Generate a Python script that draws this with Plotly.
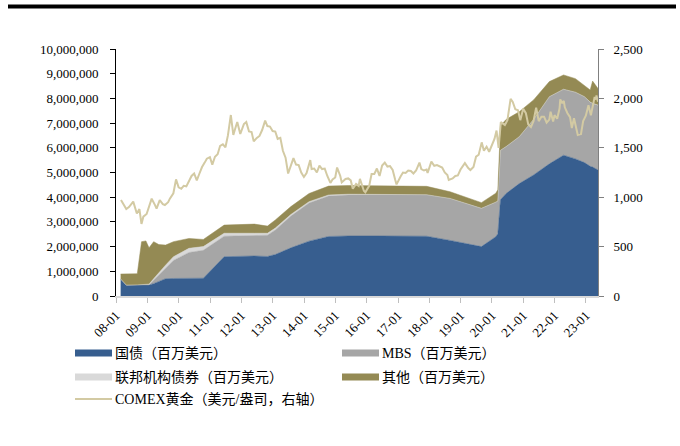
import plotly.graph_objects as go

# Fed balance sheet components, millions of USD (stacked areas, left axis)
dates = [
    "2008-02-24", "2008-05-01", "2008-09-05", "2008-10-25", "2008-12-15",
    "2009-01-20", "2009-03-15", "2009-05-15", "2009-08-01", "2009-11-01",
    "2010-05-01", "2010-10-15", "2011-06-15", "2012-06-01", "2012-11-01",
    "2013-02-01", "2013-08-01", "2014-03-01", "2014-10-15", "2015-06-01",
    "2016-06-01", "2017-06-01", "2017-12-01", "2018-09-01", "2019-04-01",
    "2019-09-01", "2020-02-15", "2020-03-10", "2020-04-10", "2020-06-15",
    "2020-11-15", "2021-05-01", "2021-11-01", "2022-04-15", "2022-09-01",
    "2022-12-15", "2023-02-20", "2023-03-20", "2023-05-22",
]
treasury = [
    690000, 440000, 450000, 450000, 450000,
    450000, 500000, 600000, 700000, 710000,
    710000, 720000, 1590000, 1620000, 1600000,
    1680000, 1950000, 2220000, 2410000, 2430000,
    2430000, 2430000, 2420000, 2250000, 2100000,
    2000000, 2400000, 2520000, 3900000, 4150000,
    4550000, 4900000, 5350000, 5700000, 5550000,
    5400000, 5250000, 5220000, 5100000,
]
mbs = [
    0, 0, 0, 0, 0,
    0, 140000, 260000, 430000, 730000,
    1051000, 1130000, 830000, 825000, 860000,
    995000, 1285000, 1545000, 1638000, 1655000,
    1665000, 1670000, 1675600, 1697600, 1617600,
    1547700, 1397700, 1327700, 1997700, 1897700,
    1897700, 2247700, 2717700, 2667700, 2697700,
    2667700, 2597700, 2577700, 2627700,
]
agency = [
    0, 0, 0, 0, 10000,
    30000, 60000, 90000, 120000, 150000,
    169000, 150000, 120000, 95000, 80000,
    75000, 65000, 55000, 42000, 35000,
    25000, 10000, 4400, 2400, 2400,
    2300, 2300, 2300, 2300, 2300,
    2300, 2300, 2300, 2300, 2300,
    2300, 2300, 2300, 2300,
]
other = [
    200000, 450000, 450000, 1750000, 1770000,
    1470000, 1500000, 1130000, 810000, 610000,
    400000, 290000, 330000, 370000, 290000,
    330000, 320000, 330000, 360000, 350000,
    350000, 350000, 340000, 270000, 250000,
    230000, 360000, 450000, 1000000, 1100000,
    1010000, 790000, 610000, 580000, 550000,
    470000, 490000, 900000, 670000,
]

# COMEX gold, USD per ounce (right axis)
gold_dates = [
    "2008-02-28", "2008-03-31", "2008-04-30", "2008-05-31", "2008-06-30", "2008-07-20",
    "2008-08-31", "2008-09-30", "2008-10-24", "2008-11-15", "2008-12-23",
    "2009-01-31", "2009-02-20", "2009-03-31", "2009-04-18", "2009-05-25", "2009-06-30",
    "2009-07-24", "2009-08-31", "2009-09-20", "2009-10-31", "2009-12-01", "2009-12-31",
    "2010-01-31", "2010-02-28", "2010-03-31", "2010-04-30", "2010-05-31", "2010-06-30",
    "2010-07-31", "2010-08-31", "2010-09-30", "2010-10-31", "2010-11-25", "2010-12-31",
    "2011-01-28", "2011-02-28", "2011-03-31", "2011-04-29", "2011-05-31", "2011-06-30",
    "2011-07-29", "2011-09-01", "2011-09-30", "2011-10-31", "2011-11-15", "2011-12-20",
    "2012-01-31", "2012-02-28", "2012-03-31", "2012-04-30", "2012-05-25", "2012-06-30",
    "2012-07-31", "2012-08-31", "2012-10-05", "2012-10-31", "2012-11-30", "2012-12-31",
    "2013-01-31", "2013-02-28", "2013-03-31", "2013-04-30", "2013-05-31", "2013-06-30",
    "2013-07-31", "2013-08-31", "2013-09-30", "2013-10-31", "2013-11-30", "2013-12-31",
    "2014-01-31", "2014-02-28", "2014-03-15", "2014-03-31", "2014-04-30", "2014-05-31",
    "2014-06-30", "2014-07-31", "2014-08-31", "2014-09-30", "2014-11-05", "2014-11-30",
    "2014-12-31", "2015-01-22", "2015-02-28", "2015-03-17", "2015-04-30", "2015-05-31",
    "2015-06-30", "2015-07-24", "2015-08-31", "2015-09-30", "2015-10-15", "2015-11-30",
    "2015-12-17", "2016-01-31", "2016-02-28", "2016-03-31", "2016-04-30", "2016-05-31",
    "2016-06-30", "2016-07-31", "2016-08-31", "2016-09-30", "2016-10-31", "2016-11-30",
    "2016-12-15", "2017-01-31", "2017-02-28", "2017-03-31", "2017-04-30", "2017-05-31",
    "2017-06-30", "2017-07-31", "2017-09-08", "2017-09-30", "2017-10-31", "2017-11-30",
    "2017-12-12", "2018-01-25", "2018-02-28", "2018-03-31", "2018-04-30", "2018-05-31",
    "2018-06-30", "2018-07-31", "2018-08-16", "2018-09-30", "2018-10-31", "2018-11-30",
    "2018-12-31", "2019-01-31", "2019-02-20", "2019-03-31", "2019-04-25", "2019-05-31",
    "2019-06-30", "2019-07-31", "2019-09-04", "2019-09-30", "2019-10-31", "2019-11-30",
    "2019-12-31", "2020-01-31", "2020-02-24", "2020-03-19", "2020-04-14", "2020-05-31",
    "2020-06-30", "2020-08-06", "2020-08-31", "2020-09-30", "2020-10-31", "2020-11-27",
    "2020-12-31", "2021-01-31", "2021-02-28", "2021-03-31", "2021-04-30", "2021-05-31",
    "2021-06-30", "2021-07-31", "2021-08-31", "2021-09-30", "2021-10-31", "2021-11-15",
    "2021-12-15", "2021-12-31", "2022-01-31", "2022-02-28", "2022-03-08", "2022-03-31",
    "2022-04-18", "2022-04-30", "2022-05-31", "2022-06-30", "2022-07-21", "2022-08-15",
    "2022-09-28", "2022-10-31", "2022-11-03", "2022-11-30", "2022-12-31", "2023-01-31",
    "2023-02-28", "2023-03-31", "2023-04-13", "2023-04-30", "2023-05-04", "2023-05-22",
]
gold = [
    972, 930, 880, 900, 935, 955,
    835, 880, 729, 803, 830,
    925, 985, 920, 885, 970, 930,
    921, 950, 985, 1040, 1180, 1100,
    1085, 1115, 1110, 1170, 1215, 1240,
    1170, 1240, 1305, 1350, 1390, 1405,
    1330, 1410, 1435, 1520, 1535, 1505,
    1625, 1832, 1630, 1720, 1760, 1640,
    1740, 1760, 1665, 1660, 1565, 1600,
    1620, 1680, 1775, 1720, 1715, 1670,
    1665, 1590, 1600, 1470, 1400, 1240,
    1320, 1395, 1330, 1325, 1250, 1205,
    1245, 1325, 1375, 1285, 1290, 1250,
    1320, 1285, 1290, 1215, 1145, 1180,
    1200, 1300, 1215, 1150, 1185, 1190,
    1170, 1085, 1135, 1115, 1185, 1065,
    1050, 1115, 1235, 1235, 1290, 1215,
    1320, 1350, 1310, 1315, 1275, 1175,
    1130, 1210, 1250, 1245, 1270, 1265,
    1240, 1270, 1350, 1285, 1270, 1280,
    1245, 1360, 1318, 1325, 1315, 1300,
    1250, 1225, 1175, 1190, 1215, 1220,
    1280, 1320, 1345, 1295, 1275, 1305,
    1410, 1430, 1555, 1470, 1510, 1460,
    1520, 1590, 1675, 1500, 1760, 1730,
    1780, 1995, 1965, 1890, 1880, 1780,
    1895, 1850, 1735, 1710, 1770, 1905,
    1770, 1815, 1815, 1755, 1785, 1865,
    1765, 1830, 1795, 1900, 1990, 1950,
    1975, 1910, 1850, 1810, 1700, 1800,
    1630, 1640, 1630, 1770, 1825, 1930,
    1830, 1985, 2015, 1990, 2030, 1965,
]

series_names = ["国债（百万美元）", "MBS（百万美元）", "联邦机构债券（百万美元）", "其他（百万美元）"]
gold_name = "COMEX黄金（美元/盎司，右轴）"

C_TSY = "#375E8F"
C_MBS = "#A6A6A6"
C_AGY = "#D9D9D9"
C_OTH = "#948A54"
C_GOLD = "#D3CAA3"

FONT = "Liberation Serif, 'Times New Roman', 'Noto Sans CJK SC', serif"

fig = go.Figure()
for name, vals, col in zip(series_names, [treasury, mbs, agency, other],
                           [C_TSY, C_MBS, C_AGY, C_OTH]):
    fig.add_trace(go.Scatter(
        x=dates, y=vals, name=name, stackgroup="bs", mode="lines",
        line=dict(width=0.5, color=col), fillcolor=col, showlegend=False,
    ))
fig.add_trace(go.Scatter(
    x=gold_dates, y=gold, name=gold_name, yaxis="y2", mode="lines",
    line=dict(width=2, color=C_GOLD), showlegend=False,
))

# plot area in pixels
L, R, T, B = 116, 598, 49, 296
W, H = 680, 446


def px(x):
    return (x - L) / (R - L)


def py(y):
    return (B - y) / (B - T)


shapes = [
    # heavy rule across the top of the page
    dict(type="rect", xref="paper", yref="paper", x0=px(8), x1=px(676),
         y0=py(8.5), y1=py(4.5), fillcolor="black", line=dict(width=0)),
]
annotations = []

legend_items = [
    (series_names[0], C_TSY, 75, 353, "box"),
    (series_names[1], C_MBS, 342, 353, "box"),
    (series_names[2], C_AGY, 75, 377, "box"),
    (series_names[3], C_OTH, 342, 377, "box"),
    (gold_name, C_GOLD, 75, 399, "line"),
]
for text, col, x0, yc, kind in legend_items:
    if kind == "box":
        shapes.append(dict(type="rect", xref="paper", yref="paper",
                           x0=px(x0), x1=px(x0 + 37), y0=py(yc + 3.5), y1=py(yc - 3.5),
                           fillcolor=col, line=dict(width=0)))
    else:
        shapes.append(dict(type="line", xref="paper", yref="paper",
                           x0=px(x0), x1=px(x0 + 37), y0=py(yc), y1=py(yc),
                           line=dict(color=col, width=2)))
    annotations.append(dict(
        xref="paper", yref="paper", x=px(x0 + 38), y=py(yc), text=text,
        showarrow=False, xanchor="left", yanchor="middle",
        font=dict(family=FONT, size=14, color="black"),
    ))

fig.update_layout(
    width=W, height=H,
    margin=dict(l=L, r=W - R, t=T, b=H - B, pad=0),
    paper_bgcolor="white", plot_bgcolor="white",
    showlegend=False,
    font=dict(family=FONT, size=13, color="black"),
    xaxis=dict(
        type="date", range=["2008-01-01", "2023-05-22"],
        tick0="2008-01-01", dtick="M12", tickformat="%y-%m",
        tickangle=-45, ticks="outside", ticklen=5, tickcolor="#BFBFBF",
        showline=True, linecolor="#D9D9D9", linewidth=1.5,
        showgrid=False, zeroline=False,
        tickfont=dict(family=FONT, size=13),
    ),
    yaxis=dict(
        range=[0, 10000000], dtick=1000000, tickformat=",d",
        ticks="outside", ticklen=5, tickcolor="black",
        showline=True, linecolor="black", linewidth=1,
        showgrid=False, zeroline=False, ticklabelstandoff=9,
        tickfont=dict(family=FONT, size=13),
    ),
    yaxis2=dict(
        overlaying="y", side="right", range=[0, 2500], dtick=500, tickformat=",d",
        ticks="outside", ticklen=5, tickcolor="#808080",
        showline=True, linecolor="#808080", linewidth=1,
        showgrid=False, zeroline=False, ticklabelstandoff=7,
        tickfont=dict(family=FONT, size=13),
    ),
    shapes=shapes,
    annotations=annotations,
)

fig.write_html("out.html")
